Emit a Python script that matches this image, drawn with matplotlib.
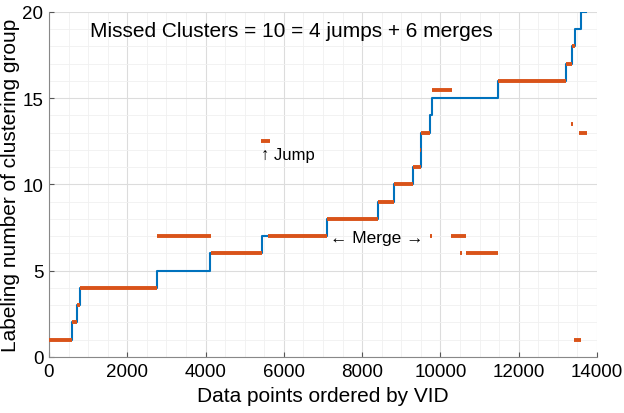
import numpy as np
import matplotlib.pyplot as plt
from matplotlib.ticker import MultipleLocator

plt.rcParams['font.family'] = ['Liberation Sans', 'DejaVu Sans']

# ground truth labels (blue step line): breakpoints and levels
true_x = [0, 580, 723, 792, 2751, 4112, 5440, 7093, 8410, 8819, 9304, 9495, 9501,
          9738, 9790, 11475, 13197, 13365, 13434, 13580, 13715]
true_y = [1, 2, 3, 4, 5, 6, 7, 8, 9, 10, 11, 12, 13, 14, 15, 16, 17, 18, 19, 20, 20]

# clustering result (orange segments): start, end, label
seg_start = [0, 580, 723, 792, 2751, 4137, 5420, 5586, 7093, 8410, 8819, 9304, 9480,
             9501, 9774, 9730, 10259, 10505, 10642, 11475, 13197, 13365, 13340,
             13544, 13409]
seg_end = [580, 723, 792, 2751, 4137, 5440, 5640, 7093, 8410, 8819, 9304, 9501, 9510,
           9738, 10300, 9780, 10642, 10540, 11467, 13197, 13365, 13434, 13375,
           13748, 13595]
seg_label = [1, 2, 3, 4, 7, 6, 12.5, 7, 8, 9, 10, 11, 12,
             13, 15.5, 7, 7, 6, 6, 16, 17, 18, 13.5,
             13, 1]

fig = plt.figure(figsize=(6.24, 4.14), dpi=100)
ax = fig.add_axes([0.0785, 0.1353, 0.8782, 0.8333])

ax.step(true_x, true_y, where='post', color='#0072BD', linewidth=1.5, zorder=3)
ax.hlines(seg_label, seg_start, seg_end, color='#D95319', linewidth=2.8, zorder=4)

ax.set_xlim(0, 14000)
ax.set_ylim(0, 20)
ax.xaxis.set_major_locator(MultipleLocator(2000))
ax.xaxis.set_minor_locator(MultipleLocator(500))
ax.yaxis.set_major_locator(MultipleLocator(5))
ax.yaxis.set_minor_locator(MultipleLocator(1))
ax.grid(which='major', color='#dcdcdc', linewidth=0.8)
ax.grid(which='minor', color='#f0f0f0', linewidth=0.6)
ax.set_axisbelow(True)

for s in ['top', 'right']:
    ax.spines[s].set_visible(False)
for s in ['left', 'bottom']:
    ax.spines[s].set_color('#888888')
    ax.spines[s].set_linewidth(0.8)
ax.tick_params(which='both', direction='in', colors='#555555', labelcolor='black',
               labelsize=13.5, pad=4)
ax.tick_params(which='minor', length=0)

ax.set_xlabel('Data points ordered by VID', fontsize=15, labelpad=5)
ax.set_ylabel('Labeling number of clustering group', fontsize=15, labelpad=2)

ax.text(1060, 18.9, 'Missed Clusters = 10 = 4 jumps + 6 merges', fontsize=15,
        va='center', ha='left')
ax.text(5420, 11.75, '\u2191 Jump', fontsize=12, va='center', ha='left')
ax.text(8380, 6.95, '\u2190 Merge \u2192', fontsize=12.5, va='center', ha='center')

fig.savefig('out.png', dpi=100)
